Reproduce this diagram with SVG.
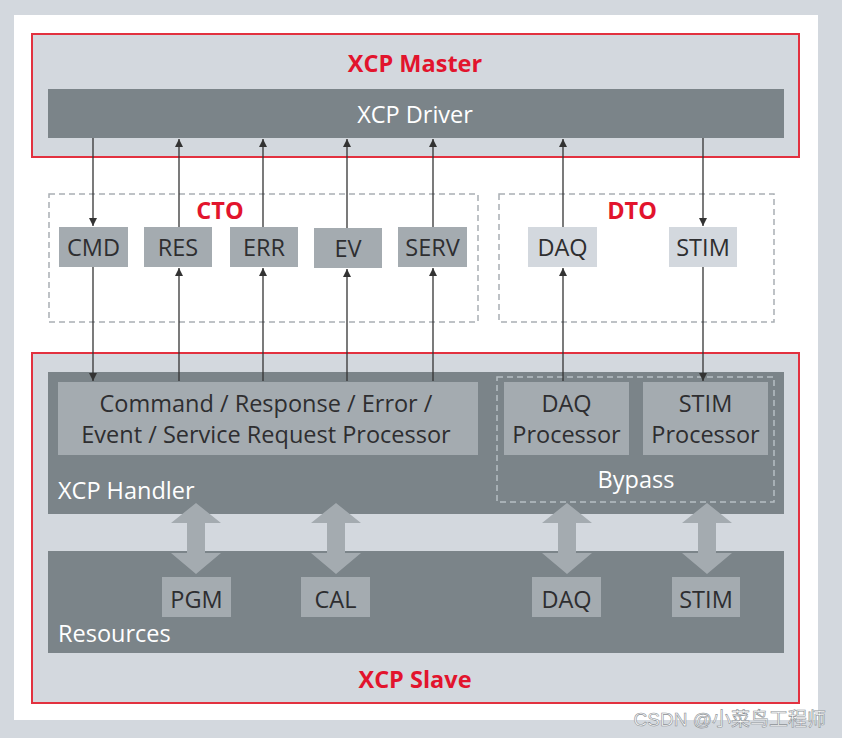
<svg xmlns="http://www.w3.org/2000/svg" width="842" height="738" viewBox="0 0 842 738">
<defs>
<style>
.red{fill:#e2142d;font-weight:bold;font-size:23.5px;text-anchor:middle;font-family:"Open Sans","Liberation Sans",sans-serif;}
.frame{fill:#d3d8de;stroke:#e2313f;stroke-width:2;}
.dark{fill:#7b8489;}
.box{fill:#a4abb0;}
.lbox{fill:#d3d8de;}
.lbl{font-family:"Open Sans","Liberation Sans",sans-serif;font-size:23.5px;fill:#2e2e30;text-anchor:middle;}
.wl{font-family:"Open Sans","Liberation Sans",sans-serif;font-size:23.5px;fill:#ffffff;}
.dash{fill:none;stroke:#a9afb4;stroke-width:1.5;stroke-dasharray:6 4;}
.dashw{fill:none;stroke:#b7bec3;stroke-width:1.5;stroke-dasharray:6 4;}
.ln{stroke:#333;stroke-width:1.3;fill:none;}
.blk{fill:#a4abb0;}
</style>
<marker id="ah" viewBox="0 0 10 10" refX="10" refY="5" markerWidth="8" markerHeight="8" markerUnits="userSpaceOnUse" orient="auto">
<path d="M0,0 L10,5 L0,10 z" fill="#333"/>
</marker>
</defs>
<rect x="0" y="0" width="842" height="738" fill="#d3d8de"/>
<rect x="14" y="15" width="804" height="705" fill="#ffffff"/>

<g id="master">
<rect class="frame" x="32" y="34" width="767" height="123"/>
<text class="red" x="415" y="72">XCP Master</text>
</g>
<g id="driver">
<rect class="dark" x="48" y="89" width="736" height="49"/>
<text class="wl" x="415" y="123" text-anchor="middle">XCP Driver</text>
</g>

<g id="cto">
<rect class="dash" x="49" y="194" width="429" height="128"/>
<text class="red" x="220" y="219">CTO</text>
</g>
<g id="dto">
<rect class="dash" x="499" y="194" width="275" height="128"/>
<text class="red" x="632" y="219">DTO</text>
</g>

<g id="cmd"><rect class="box" x="59" y="227" width="69" height="40"/><text class="lbl" x="93.5" y="256">CMD</text></g>
<g id="res"><rect class="box" x="144" y="227" width="68" height="40"/><text class="lbl" x="178" y="256">RES</text></g>
<g id="err"><rect class="box" x="230" y="227" width="68" height="40"/><text class="lbl" x="264" y="256">ERR</text></g>
<g id="ev"><rect class="box" x="314" y="228" width="68" height="40"/><text class="lbl" x="348" y="257">EV</text></g>
<g id="serv"><rect class="box" x="398" y="227" width="69" height="40"/><text class="lbl" x="432.5" y="256">SERV</text></g>
<g id="daq"><rect class="lbox" x="528" y="227" width="69" height="40"/><text class="lbl" x="562.5" y="256">DAQ</text></g>
<g id="stim"><rect class="lbox" x="669" y="227" width="68" height="40"/><text class="lbl" x="703" y="256">STIM</text></g>

<g id="slave">
<rect class="frame" x="32" y="353" width="767" height="350"/>
<text class="red" x="415" y="688">XCP Slave</text>
</g>
<g id="handler">
<rect class="dark" x="48" y="372" width="736" height="142"/>
<text class="wl" x="58" y="499">XCP Handler</text>
</g>
<g id="cmdproc">
<rect class="box" x="58" y="382" width="420" height="73"/>
<text class="lbl" x="266" y="412">Command / Response / Error /</text>
<text class="lbl" x="266" y="443">Event / Service Request Processor</text>
</g>
<g id="bypass">
<rect class="dashw" x="497" y="377" width="277" height="125"/>
<text class="wl" x="636" y="488" text-anchor="middle">Bypass</text>
</g>
<g id="daqproc">
<rect class="box" x="504" y="382" width="125" height="73"/>
<text class="lbl" x="566.5" y="412">DAQ</text>
<text class="lbl" x="566.5" y="443">Processor</text>
</g>
<g id="stimproc">
<rect class="box" x="643" y="382" width="125" height="73"/>
<text class="lbl" x="705.5" y="412">STIM</text>
<text class="lbl" x="705.5" y="443">Processor</text>
</g>
<g id="resources">
<rect class="dark" x="48" y="551" width="736" height="102"/>
<text class="wl" x="58" y="642">Resources</text>
</g>
<g id="pgm"><rect class="box" x="162" y="577" width="69" height="40"/><text class="lbl" x="196.5" y="608">PGM</text></g>
<g id="cal"><rect class="box" x="301" y="577" width="69" height="40"/><text class="lbl" x="335.5" y="608">CAL</text></g>
<g id="rdaq"><rect class="box" x="532" y="577" width="69" height="40"/><text class="lbl" x="566.5" y="608">DAQ</text></g>
<g id="rstim"><rect class="box" x="672" y="577" width="68" height="40"/><text class="lbl" x="706" y="608">STIM</text></g>

<g id="connectors">
<line class="ln" x1="93" y1="138" x2="93" y2="226" marker-end="url(#ah)"/>
<line class="ln" x1="179" y1="227" x2="179" y2="139" marker-end="url(#ah)"/>
<line class="ln" x1="263" y1="227" x2="263" y2="139" marker-end="url(#ah)"/>
<line class="ln" x1="347" y1="228" x2="347" y2="139" marker-end="url(#ah)"/>
<line class="ln" x1="433" y1="227" x2="433" y2="139" marker-end="url(#ah)"/>
<line class="ln" x1="563" y1="227" x2="563" y2="139" marker-end="url(#ah)"/>
<line class="ln" x1="703" y1="138" x2="703" y2="226" marker-end="url(#ah)"/>

<line class="ln" x1="93" y1="267" x2="93" y2="381" marker-end="url(#ah)"/>
<line class="ln" x1="179" y1="381" x2="179" y2="268" marker-end="url(#ah)"/>
<line class="ln" x1="263" y1="381" x2="263" y2="268" marker-end="url(#ah)"/>
<line class="ln" x1="347" y1="381" x2="347" y2="269" marker-end="url(#ah)"/>
<line class="ln" x1="433" y1="381" x2="433" y2="268" marker-end="url(#ah)"/>
<line class="ln" x1="563" y1="381" x2="563" y2="268" marker-end="url(#ah)"/>
<line class="ln" x1="703" y1="267" x2="703" y2="381" marker-end="url(#ah)"/>

<path class="blk" d="M196,503 L221,523 L205,523 L205,553 L221,553 L196,574 L171,553 L187,553 L187,523 L171,523 Z"/>
<path class="blk" d="M336,503 L361,523 L345,523 L345,553 L361,553 L336,574 L311,553 L327,553 L327,523 L311,523 Z"/>
<path class="blk" d="M567,503 L592,523 L576,523 L576,553 L592,553 L567,574 L542,553 L558,553 L558,523 L542,523 Z"/>
<path class="blk" d="M707,503 L732,523 L716,523 L716,553 L732,553 L707,574 L682,553 L698,553 L698,523 L682,523 Z"/>
</g>

<text x="826" y="726" text-anchor="end" font-family="'Liberation Sans','Noto Sans CJK SC',sans-serif" font-size="19" fill="#ffffff" stroke="#8a8f94" stroke-width="0.6">CSDN @小菜鸟工程师</text>
</svg>
